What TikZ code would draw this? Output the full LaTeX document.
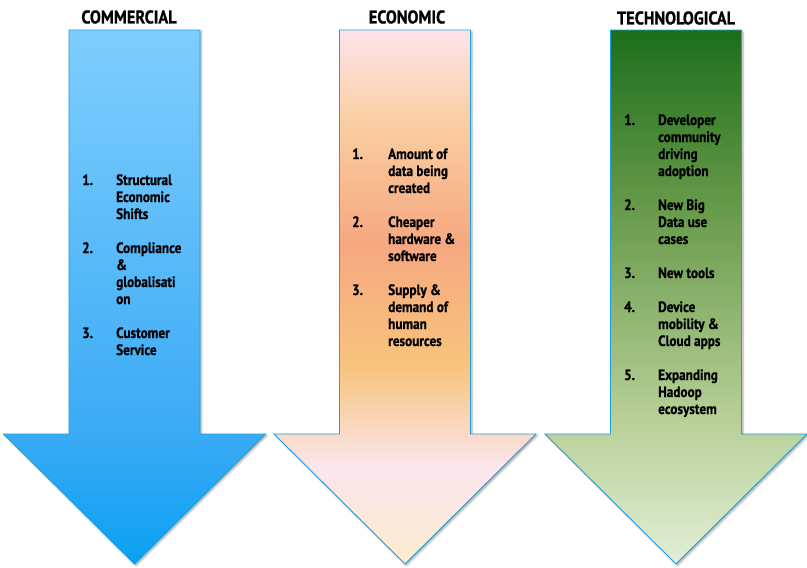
\documentclass[tikz,border=0pt]{standalone}
\usepackage{fontspec}
\setmainfont[FakeStretch=0.88, BoldFeatures={FakeBold=0.8}]{PT Sans}
\usetikzlibrary{shadows.blur}

\definecolor{arrowline}{RGB}{30,160,222}
% commercial: sky blue
\definecolor{commA}{RGB}{126,206,253}
\definecolor{commB}{RGB}{58,170,245}
\definecolor{commC}{RGB}{10,160,242}
% economic: pink - salmon - orange - pink
\definecolor{econA}{RGB}{252,228,234}
\definecolor{econB}{RGB}{250,206,162}
\definecolor{econC}{RGB}{246,168,128}
\definecolor{econD}{RGB}{247,196,125}
\definecolor{econE}{RGB}{251,230,238}
\definecolor{econF}{RGB}{251,236,205}
% technological: dark to pale green
\definecolor{techA}{RGB}{28,110,28}
\definecolor{techB}{RGB}{100,152,72}
\definecolor{techC}{RGB}{184,208,152}
\definecolor{techD}{RGB}{226,238,214}

\pgfdeclareverticalshading{commshade}{100bp}{color(0bp)=(commC); color(25bp)=(commC);
  color(37bp)=(commB); color(75bp)=(commA); color(100bp)=(commA)}
\pgfdeclareverticalshading{econshade}{100bp}{color(0bp)=(econF); color(25bp)=(econF);
  color(34bp)=(econE); color(43.5bp)=(econD); color(55bp)=(econC); color(66.5bp)=(econB);
  color(75bp)=(econA); color(100bp)=(econA)}
\pgfdeclareverticalshading{techshade}{100bp}{color(0bp)=(techD); color(25bp)=(techD);
  color(38.5bp)=(techC); color(59bp)=(techB); color(75bp)=(techA); color(100bp)=(techA)}

\tikzset{
  bigarrow/.style={draw=arrowline, line width=0.9pt, line join=miter,
    blur shadow={shadow xshift=1.5pt, shadow yshift=-1.5pt,
      shadow blur radius=2pt, shadow opacity=35}},
  header/.style={font=\bfseries\fontsize{18.5}{20}\selectfont},
  listbox/.style={anchor=base west, inner sep=0pt,
    font=\bfseries\fontsize{15}{17}\selectfont}
}

\begin{document}
\begin{tikzpicture}[x=1pt,y=-1pt]
    \useasboundingbox (0,0) rectangle (807,568);
    % the three down arrows
    \foreach \c/\shd in {134.5/commshade, 405/econshade, 676/techshade}
      \draw [bigarrow, shading=\shd] (\c-65.5,30) -- (\c+65.5,30) -- (\c+65.5,434)
        -- (\c+131,434) -- (\c,564) -- (\c-131,434) -- (\c-65.5,434) -- cycle;

    \node [header] (comm) at (129,17) {COMMERCIAL};
    \node [header] (econ) at (407,17) {ECONOMIC};
    \node [header] (tech) at (676,18) {TECHNOLOGICAL};

    \node [listbox] (comm-list) at (82,185) {\begin{tabular}[t]{@{}p{34pt}@{}l@{}}
      1. & Structural\\ & Economic\\ & Shifts\\[17pt]
      2. & Compliance\\ & \&\\ & globalisati\\ & on\\[17pt]
      3. & Customer\\ & Service
    \end{tabular}};
    \node [listbox] (econ-list) at (352,159) {\begin{tabular}[t]{@{}p{36pt}@{}l@{}}
      1. & Amount of\\ & data being\\ & created\\[17pt]
      2. & Cheaper\\ & hardware \&\\ & software\\[17pt]
      3. & Supply \&\\ & demand of\\ & human\\ & resources
    \end{tabular}};
    \node [listbox] (tech-list) at (624,125) {\begin{tabular}[t]{@{}p{34pt}@{}l@{}}
      1. & Developer\\ & community\\ & driving\\ & adoption\\[17pt]
      2. & New Big\\ & Data use\\ & cases\\[17pt]
      3. & New tools\\[17pt]
      4. & Device\\ & mobility \&\\ & Cloud apps\\[17pt]
      5. & Expanding\\ & Hadoop\\ & ecosystem
    \end{tabular}};
\end{tikzpicture}
\end{document}
